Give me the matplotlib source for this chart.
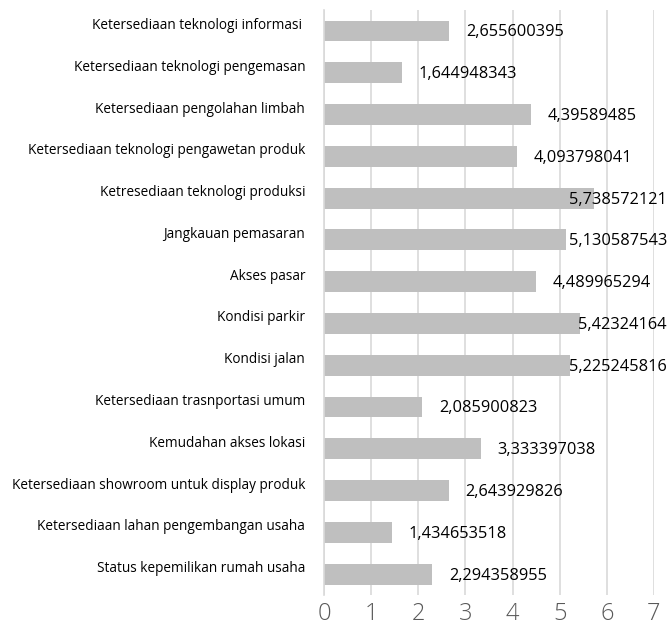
import matplotlib.pyplot as plt
from matplotlib.transforms import offset_copy

# data (top to bottom as in the chart)
categories = [
    "Ketersediaan teknologi informasi ",
    "Ketersediaan teknologi pengemasan",
    "Ketersediaan pengolahan limbah",
    "Ketersediaan teknologi pengawetan produk",
    "Ketresediaan teknologi produksi",
    "Jangkauan pemasaran",
    "Akses pasar",
    "Kondisi parkir",
    "Kondisi jalan",
    "Ketersediaan trasnportasi umum",
    "Kemudahan akses lokasi",
    "Ketersediaan showroom untuk display produk",
    "Ketersediaan lahan pengembangan usaha",
    "Status kepemilikan rumah usaha",
]
values = [2.655600395, 1.644948343, 4.39589485, 4.093798041, 5.738572121,
          5.130587543, 4.489965294, 5.42324164, 5.225245816, 2.085900823,
          3.333397038, 2.643929826, 1.434653518, 2.294358955]
value_labels = ["2,655600395", "1,644948343", "4,39589485", "4,093798041",
                "5,738572121", "5,130587543", "4,489965294", "5,42324164",
                "5,225245816", "2,085900823", "3,333397038", "2,643929826",
                "1,434653518", "2,294358955"]
xticks = [0, 1, 2, 3, 4, 5, 6, 7]

plt.rcParams['font.family'] = ['Open Sans', 'DejaVu Sans']

fig = plt.figure(figsize=(6.7, 6.32), dpi=100)
ax = fig.add_axes([0.4836, 0.0585, 0.976 - 0.4836, 0.984 - 0.0585])

ypos = list(range(len(categories)))
ax.barh(ypos, values, height=0.5, color='#bfbfbf', zorder=2)

ax.set_xlim(0, 7)
ax.set_ylim(len(categories) - 0.5, -0.5)
ax.set_xticks(xticks)
ax.set_xticklabels([str(t) for t in xticks], fontsize=17, color='#595959',
                   fontweight='light')
ax.tick_params(axis='x', length=0, pad=5)
ax.set_yticks([])
ax.grid(axis='x', color='#d9d9d9', linewidth=1.2, zorder=0)
for s in ['top', 'right', 'bottom']:
    ax.spines[s].set_visible(False)
ax.spines['left'].set_color('#d9d9d9')
ax.spines['left'].set_linewidth(1.2)

# category labels, a little above bar centre
ytrans = offset_copy(ax.get_yaxis_transform(), fig=fig, x=0, y=4, units='points')
for y, c in zip(ypos, categories):
    ax.text(-0.057, y, c, transform=ytrans, ha='right', va='center',
            fontsize=9.8, color='#000000')

# value labels, pushed back inside when they run off the right side
anns = []
for y, v, lab in zip(ypos, values, value_labels):
    a = ax.annotate(lab, xy=(v, y), xytext=(12, -1), textcoords='offset points',
                    ha='left', va='center', fontsize=11.8, color='#000000',
                    annotation_clip=False, zorder=3)
    anns.append(a)

fig.canvas.draw()
r = fig.canvas.get_renderer()
limit = 667
for a in anns:
    bb = a.get_window_extent(r)
    if bb.x1 > limit:
        dx = (bb.x1 - limit) * 72 / fig.dpi
        a.xyann = (12 - dx, -1)

plt.savefig("out.png", dpi=100)
